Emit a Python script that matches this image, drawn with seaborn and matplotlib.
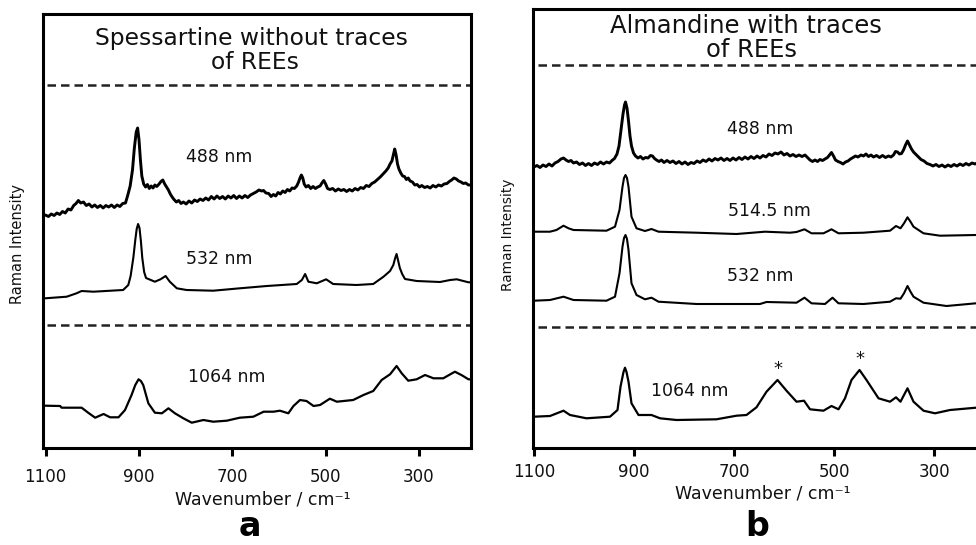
import matplotlib
matplotlib.use("Agg")
import matplotlib.pyplot as plt
import seaborn as sns
import pandas as pd

sns.set_theme(style="white")
plt.rcParams["font.family"] = ["DejaVu Sans"]

# ---------------- Panel a: Spessartine (no REE traces) ----------------
a488_w = [1101, 1094, 1088, 1082, 1076, 1070, 1064, 1058, 1052, 1046, 1040, 1035, 1030, 1025, 1019,
          1013, 1007, 1001, 995, 989, 983, 977, 971, 965, 959, 953, 947, 941, 935, 929, 924, 919,
          914, 910, 906, 903, 900, 897, 894, 890, 886, 882, 878, 874, 870, 866, 862, 857, 853, 849,
          845, 841, 837, 833, 829, 825, 820, 815, 810, 805, 799, 793, 787, 781, 775, 769, 763, 757,
          751, 745, 739, 733, 727, 721, 715, 709, 703, 697, 691, 685, 679, 673, 667, 661, 655, 649,
          643, 637, 633, 628, 622, 617, 612, 607, 602, 597, 592, 587, 582, 577, 572, 567, 562, 558,
          555, 552, 549, 546, 542, 537, 532, 527, 522, 517, 512, 508, 504, 500, 496, 491, 485, 479,
          473, 467, 461, 455, 449, 443, 437, 431, 425, 419, 413, 407, 401, 395, 389, 383, 377, 371,
          366, 362, 358, 355, 352, 349, 346, 343, 339, 335, 331, 327, 323, 319, 314, 309, 304, 299,
          294, 288, 282, 276, 270, 264, 258, 252, 246, 240, 235, 230, 225, 220, 215, 210, 205, 200, 194, 188]
a488_i = [233, 231.5, 234, 232.5, 235, 233.5, 236.5, 235, 239, 238, 242.5, 244.5, 247.5, 245, 246,
          242.5, 244, 241, 243, 240.5, 242.5, 240, 242.5, 241, 243, 240.5, 243, 241.5, 244.5, 245, 253, 262,
          278, 300, 316, 320, 308, 288, 272, 264, 261, 263.5, 259.5, 262, 260, 263, 261.5, 264, 266.5, 268,
          264, 261, 258, 254, 251, 248.5, 246, 247.5, 244.5, 246, 244, 247, 245, 248, 246.5, 249, 247.5, 250,
          248, 251.5, 249, 252, 249.5, 251.5, 249, 252, 250, 252.5, 249.5, 252, 250, 252.5, 250.5, 253, 254.5, 256,
          258, 257, 257.5, 255, 254.5, 251.5, 253.5, 252, 255.5, 254, 257, 255.5, 258.5, 257, 260, 259.5, 262, 266,
          270, 273, 270, 264, 261, 262.5, 259.5, 261.5, 259.5, 261, 262, 265, 267.5, 264, 259.5, 258.5, 259.5, 257,
          259, 257.5, 258.5, 256.5, 258.5, 257, 259.5, 258, 260.5, 259.5, 262.5, 261.5, 264.5, 266, 268.5, 271, 274, 277,
          280, 284, 287, 293, 299, 293, 284, 279, 275, 272, 271.5, 268.5, 270, 267, 266, 263, 263.5, 261,
          262.5, 260.5, 261.5, 260, 262.5, 261, 263, 262, 264, 264.5, 266.5, 268, 270, 269, 267, 266, 264.5, 265, 263, 263]

a532_w = [1101, 1055, 1034, 1023, 998, 934, 923, 918, 912, 908, 905, 902, 899, 896, 893, 889, 885,
          866, 854, 843, 834, 819, 798, 741, 684, 626, 562, 551, 544, 537, 519, 499, 484, 434, 398,
          376, 362, 355, 351, 348, 345, 341, 336, 330, 326, 305, 255, 233, 219, 194, 188]
a532_i = [149.7, 151.3, 154.7, 157, 156.3, 158, 163, 172, 191, 208, 219, 224, 220, 207, 190, 176, 170,
          166.3, 168.7, 172, 166.3, 159.7, 158, 157.3, 159.7, 162, 164, 168, 174, 166.3, 164.7, 168.7, 164, 163, 164,
          171.3, 177, 183, 190, 194, 188, 180, 174, 169, 168.7, 167, 166, 168, 168.7, 165.7, 165.7]

a1064_w = [1101, 1069, 1066, 1023, 1009, 994, 976, 962, 944, 930, 916, 908, 901, 896, 891, 880, 866,
           851, 837, 823, 805, 787, 762, 741, 712, 684, 655, 633, 612, 598, 580, 569, 555, 541, 526,
           512, 491, 476, 441, 419, 398, 380, 362, 348, 337, 323, 305, 287, 269, 248, 223, 208, 194, 188]
a1064_i = [42.3, 42, 40.3, 40.3, 35.3, 30.3, 34, 30.7, 30.7, 38, 53, 63, 68.7, 67, 63, 44.7, 35.3,
           34.7, 39.7, 34.7, 29.7, 25.3, 28, 26.3, 27.3, 30.3, 31.3, 36.3, 36.3, 37.3, 34.7, 42, 48, 47, 42,
           43, 49.3, 46.3, 48, 53, 57, 68, 73.7, 82, 74.7, 67.3, 68.7, 73, 69.7, 69.7, 76.3, 72.7, 68.7, 68.7]

# ---------------- Panel b: Almandine (with REE traces) ----------------
b488_w = [1100, 1094, 1088, 1082, 1076, 1070, 1064, 1058, 1052, 1046, 1041, 1036, 1031, 1026, 1021, 1015,
          1009, 1003, 997, 991, 985, 979, 973, 967, 961, 955, 949, 944, 939, 934, 930, 926, 922, 919, 917,
          914, 911, 908, 905, 901, 897, 892, 887, 882, 877, 872, 867, 863, 859, 855, 850, 845, 840, 834,
          828, 822, 816, 810, 804, 798, 792, 786, 780, 774, 768, 762, 756, 750, 744, 738, 732, 726, 720,
          714, 708, 702, 696, 690, 684, 678, 672, 666, 660, 654, 648, 642, 636, 630, 624, 618, 612, 606,
          600, 594, 588, 582, 576, 570, 564, 558, 553, 548, 543, 538, 533, 528, 523, 518, 513, 509, 505,
          501, 497, 492, 487, 482, 477, 472, 467, 462, 457, 452, 446, 441, 436, 431, 426, 421, 415, 409,
          403, 397, 391, 386, 381, 377, 373, 369, 365, 361, 357, 353, 349, 345, 341, 336, 331, 326, 320,
          314, 308, 302, 296, 290, 284, 278, 272, 266, 260, 254, 248, 242, 236, 230, 224, 218, 212, 206,
          200, 194, 188, 182, 176, 170]
b488_i = [281, 282.5, 280.5, 283, 281.5, 284, 282, 285, 286.5, 289, 290, 288, 286.5, 287.5, 285, 286,
          283.5, 285, 282.5, 284.5, 282.5, 285, 283.5, 286, 284, 286, 285, 287.5, 289.5, 294, 302, 318, 334, 343, 346,
          340, 327, 312, 302, 295, 292, 290, 291.5, 289, 290.5, 290, 292.5, 292, 289.5, 288, 286.5, 288, 285.5, 287.5,
          285.5, 287, 284.5, 286.5, 284, 286, 283.5, 285.5, 284.5, 287, 285.5, 288, 286.5, 289, 287, 289.5, 288, 290, 287.5,
          289.5, 287.5, 290, 288, 290.5, 288.5, 291, 289, 291.5, 289.5, 292, 290, 292.5, 291, 294, 292.5, 295, 294, 296,
          293, 294.5, 292, 293.5, 291.5, 293, 291.5, 293, 290.5, 288, 286.5, 288, 286.5, 288.5, 287.5, 289, 290.5, 293, 295.5,
          292, 288, 286.5, 285.5, 284, 286, 287, 289, 290.5, 292, 291, 293, 292, 294, 291.5, 293, 291, 292.5, 290.5,
          292.5, 290.5, 292, 291, 293, 296.5, 296, 294, 294.5, 298, 303, 307, 303, 299, 296, 293.5, 291, 288.5, 287,
          284.5, 283.5, 282, 283.5, 281.5, 283, 281, 283, 281.5, 283.5, 282, 284, 282.5, 284.5, 283, 285, 284, 285.5, 284,
          286, 284.5, 286, 284.5, 286, 285]

b514_w = [1100, 1068, 1055, 1041, 1031, 1021, 955, 938, 929, 923, 920, 917, 914, 911, 905, 895, 878,
          865, 851, 775, 695, 638, 588, 575, 559, 545, 521, 505, 491, 441, 388, 376, 367, 360, 353, 347,
          341, 321, 288, 216, 170]
b514_i = [216.3, 216.3, 218, 222.3, 219.7, 218, 217.3, 221.3, 238, 261.3, 270, 273, 270, 261.3, 231.3, 219.7, 217,
          219, 216.3, 215.3, 214, 216.3, 215.3, 216, 218.7, 214.7, 214.7, 218.7, 214.7, 215.3, 217.3, 222, 219.7, 224.7, 230.7, 226.3,
          221.3, 214.7, 212.3, 213, 213]

b532_w = [1100, 1068, 1041, 1021, 955, 938, 929, 923, 920, 917, 914, 911, 905, 895, 878, 865, 851,
          775, 648, 635, 575, 559, 545, 518, 503, 491, 441, 388, 376, 367, 360, 353, 347, 341, 321, 275,
          216, 170]
b532_i = [147.3, 148, 151.3, 148, 147.3, 151.3, 174.7, 201.3, 210, 213, 209, 198, 164.7, 153, 148.7, 150.3, 146.3,
          144, 144, 146, 145.3, 150.3, 144.7, 144, 150.3, 144.7, 144, 146.3, 149.7, 149.3, 154.7, 162, 156.3, 151.3, 145.3, 142,
          144.7, 144.7]

b1064_w = [1100, 1068, 1041, 1028, 995, 948, 933, 927, 921, 918, 915, 911, 905, 891, 865, 848, 815,
           735, 695, 675, 655, 635, 613, 595, 575, 560, 548, 521, 505, 491, 478, 465, 449, 435, 411,
           388, 376, 367, 353, 341, 321, 298, 268, 216, 170]
b1064_i = [31.3, 32, 37.3, 33, 29.7, 31.3, 38, 61.3, 76, 80.3, 76, 66.3, 44.7, 33, 33, 29.7, 28,
           28.7, 32.3, 33, 40.7, 56.3, 68, 57.3, 46.3, 47.3, 38.7, 37.3, 42, 38.7, 49.7, 68, 78, 68, 49.7,
           46.3, 50.7, 46.3, 59.7, 46.3, 37.3, 34.7, 38, 40.3, 40.3]

# labels of the spectra: (text, wavenumber, intensity)
a_labels = [("488 nm", 729, 291), ("532 nm", 729, 189), ("1064 nm", 712, 71)]
b_labels = [("488 nm", 648, 319), ("514.5 nm", 630, 237), ("532 nm", 648, 172), ("1064 nm", 788, 57)]
b_stars = [(613, 79), (448, 89)]
a_dashes = [363, 123]
b_dashes = [383, 121]
ticks = [1100, 900, 700, 500, 300]

W, H = 976, 545
fig = plt.figure(figsize=(W / 100, H / 100), dpi=100)
fig.patch.set_facecolor("white")

def px_rect(left, top, right, bottom):
    return [left / W, (H - bottom) / H, (right - left) / W, (bottom - top) / H]

ax_a = fig.add_axes(px_rect(43, 14, 471, 448))
ax_b = fig.add_axes(px_rect(533, 9.3, 1000, 448))

def draw(ax, traces, lw_list, xlim, ylim, labels, dashes, pad):
    for (w, i), lw in zip(traces, lw_list):
        df = pd.DataFrame({"w": w, "i": i})
        sns.lineplot(data=df, x="w", y="i", ax=ax, color="black", lw=lw,
                     sort=False, estimator=None, legend=False)
    for y in dashes:
        ax.axhline(y, xmin=0.01, xmax=1.0, color="#222222", lw=1.8, dashes=(3.4, 2.0))
    for txt, x, y in labels:
        ax.text(x, y, txt, ha="center", va="center", fontsize=12.5, color="#111111")
    ax.set_xlim(*xlim)
    ax.set_ylim(*ylim)
    ax.set_xticks(ticks)
    ax.set_xticklabels([str(t) for t in ticks])
    ax.set_yticks([])
    ax.set_xlabel("")
    ax.set_ylabel("")
    ax.tick_params(axis="x", bottom=True, direction="out", length=5.5, width=2.2,
                   pad=pad, labelsize=12, colors="black", labelcolor="#111111")
    for s in ax.spines.values():
        s.set_linewidth(2.2)
        s.set_color("black")
    ax.set_facecolor("white")

draw(ax_a, [(a488_w, a488_i), (a532_w, a532_i), (a1064_w, a1064_i)], [2.1, 1.5, 1.6],
     (1105.8, 188.5), (0, 434), a_labels, a_dashes, 9)
draw(ax_b, [(b488_w, b488_i), (b514_w, b514_i), (b532_w, b532_i), (b1064_w, b1064_i)],
     [2.1, 1.5, 1.5, 1.6], (1102, 168), (0, 438.7), b_labels, b_dashes, 5)

for x, y in b_stars:
    ax_b.text(x, y, "*", ha="center", va="center", fontsize=13, color="#111111")

# titles
ax_a.text((251 - 43) / 428, (448 - 39) / 434, "Spessartine without traces", transform=ax_a.transAxes,
          ha="center", va="center", fontsize=16.8, color="#111111")
ax_a.text((255 - 43) / 428, (448 - 63) / 434, "of REEs", transform=ax_a.transAxes,
          ha="center", va="center", fontsize=16.8, color="#111111")
ax_b.text((746 - 533) / 467, (448 - 26) / 438.7, "Almandine with traces", transform=ax_b.transAxes,
          ha="center", va="center", fontsize=17.5, color="#111111")
ax_b.text((751 - 533) / 467, (448 - 50) / 438.7, "of REEs", transform=ax_b.transAxes,
          ha="center", va="center", fontsize=17.5, color="#111111")

# axis labels and panel letters (pixel positions -> figure fraction)
def ftext(x, y, s, **kw):
    fig.text(x / W, (H - y) / H, s, ha="center", va="center", **kw)

ftext(263, 499, "Wavenumber / cm\u207b\u00b9", fontsize=12.5, color="#111111")
ftext(763, 493, "Wavenumber / cm\u207b\u00b9", fontsize=12.5, color="#111111")
ftext(18, 244, "Raman Intensity", rotation=90, fontsize=10.5, color="#111111")
ftext(508, 235, "Raman Intensity", rotation=90, fontsize=9.8, color="#111111")
ftext(250, 527, "a", fontsize=24, fontweight="bold", color="black")
ftext(757, 527, "b", fontsize=24, fontweight="bold", color="black")

fig.savefig("out.png", dpi=100, facecolor="white")
